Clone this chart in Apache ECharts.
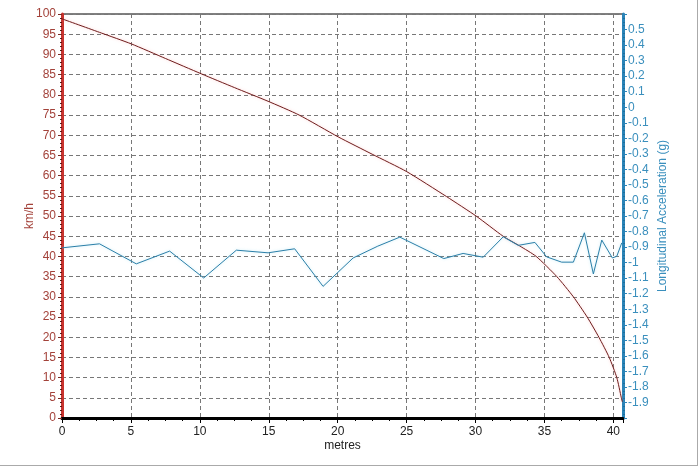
<!DOCTYPE html>
<html>
<head>
<meta charset="utf-8">
<script src="https://cdn.jsdelivr.net/npm/echarts@6/dist/echarts.min.js"></script>
<style>
html,body{margin:0;padding:0;background:#fff;}
#c{width:700px;height:467px;}
</style>
</head>
<body>
<div id="c"></div>
<script>
// Speed (km/h) vs distance (metres)
const speedDist = [0, 2.85, 5.03, 7.5, 10.1, 12.5, 14.95, 17.2, 20.03, 22.5, 25, 27.9, 30.08, 32, 33.2, 34.4, 35.9, 37.1, 38.1, 38.95, 39.7, 40.25, 40.58, 40.65];
const speedKmh  = [98.8, 95.3, 92.6, 89, 85.2, 81.8, 78.4, 75, 69.6, 65.3, 61, 54.8, 49.9, 45, 42.6, 40, 35, 30, 25, 20, 15, 10, 5, 4];

// Longitudinal acceleration (g) vs distance (metres)
const accDist = [0, 2.72, 5.39, 7.81, 10.28, 12.65, 14.95, 16.88, 18.94, 21.12, 22.91, 24.51, 27.7, 29.1, 30.56, 32.01, 33.1, 34.31, 35.16, 36.25, 37.1, 37.9, 38.55, 39.16, 39.93, 40.25, 40.61];
const accG    = [-0.905, -0.879, -1.008, -0.926, -1.099, -0.92, -0.937, -0.911, -1.153, -0.97, -0.894, -0.836, -0.974, -0.941, -0.965, -0.834, -0.889, -0.87, -0.963, -0.997, -0.997, -0.808, -1.073, -0.855, -0.97, -0.959, -0.873];

const xName = 'metres';
const leftName = 'km/h';
const rightName = 'Longitudinal Acceleration (g)';

const FONT = 'Liberation Sans, Arial, sans-serif';

const chart = echarts.init(document.getElementById('c'), null, {renderer: 'canvas'});
chart.setOption({
  backgroundColor: '#ffffff',
  animation: false,
  grid: {left: 62, right: 77, top: 14, bottom: 49, show: true, borderColor: '#000', borderWidth: 1},
  xAxis: {
    type: 'value', min: 0, max: 40.7, interval: 5,
    name: xName, nameLocation: 'middle', nameGap: 22, nameMoveOverlap: false,
    nameTextStyle: {color: '#222', fontFamily: FONT, fontSize: 12},
    axisLine: {lineStyle: {color: '#000', width: 3}},
    axisTick: {length: 5, lineStyle: {color: '#000'}},
    minorTick: {show: true, splitNumber: 4, length: 3, lineStyle: {color: '#000'}},
    axisLabel: {color: '#222', fontFamily: FONT, fontSize: 12, margin: 8, showMaxLabel: false},
    splitLine: {show: true, lineStyle: {color: '#777', type: [4, 3], width: 1}}
  },
  yAxis: [{
    type: 'value', min: 0, max: 100, interval: 5, position: 'left',
    name: leftName, nameLocation: 'middle', nameGap: 26, nameRotate: 90, nameMoveOverlap: false,
    nameTextStyle: {color: '#a3423a', fontFamily: FONT, fontSize: 12},
    axisLine: {show: true, lineStyle: {color: '#c8332e', width: 3}},
    axisTick: {show: true, length: 4, lineStyle: {color: '#7a2a24'}},
    minorTick: {show: true, splitNumber: 5, length: 2, lineStyle: {color: '#5a1a16'}},
    axisLabel: {color: '#a3423a', fontFamily: FONT, fontSize: 12, margin: 6},
    splitLine: {show: true, lineStyle: {color: '#777', type: [4, 3], width: 1}}
  }, {
    type: 'value', min: -2, max: 0.6, interval: 0.1, position: 'right',
    name: rightName, nameLocation: 'middle', nameGap: 34, nameRotate: 90, nameMoveOverlap: false,
    nameTextStyle: {color: '#3a8fbd', fontFamily: FONT, fontSize: 12},
    axisLine: {show: true, lineStyle: {color: '#2a84b8', width: 3}},
    axisTick: {show: true, length: 4, lineStyle: {color: '#2a84b8'}},
    minorTick: {show: true, splitNumber: 4, length: 2, lineStyle: {color: '#1f6f9c'}},
    axisLabel: {color: '#3a8fbd', fontFamily: FONT, fontSize: 12, margin: 5, showMinLabel: false, showMaxLabel: false},
    splitLine: {show: false}
  }],
  series: [{
    type: 'line', yAxisIndex: 0, symbol: 'none', smooth: 0.2,
    data: speedDist.map((d, i) => [d, speedKmh[i]]),
    lineStyle: {color: '#6e1c1c', width: 1, shadowColor: 'rgba(255,150,150,0.5)', shadowBlur: 3},
    itemStyle: {color: '#6e1c1c'}, z: 3
  }, {
    type: 'line', yAxisIndex: 1, symbol: 'none',
    data: accDist.map((d, i) => [d, accG[i]]),
    lineStyle: {color: '#2b7fa8', width: 1, shadowColor: 'rgba(150,220,240,0.6)', shadowBlur: 3},
    itemStyle: {color: '#2b7fa8'}, z: 4
  }],
  graphic: [
    {type: 'line', shape: {x1: 0, y1: 465.5, x2: 698, y2: 465.5}, style: {stroke: '#aaa', lineWidth: 1}},
    {type: 'line', shape: {x1: 697.5, y1: 0, x2: 697.5, y2: 466}, style: {stroke: '#aaa', lineWidth: 1}}
  ]
});
</script>
</body>
</html>
